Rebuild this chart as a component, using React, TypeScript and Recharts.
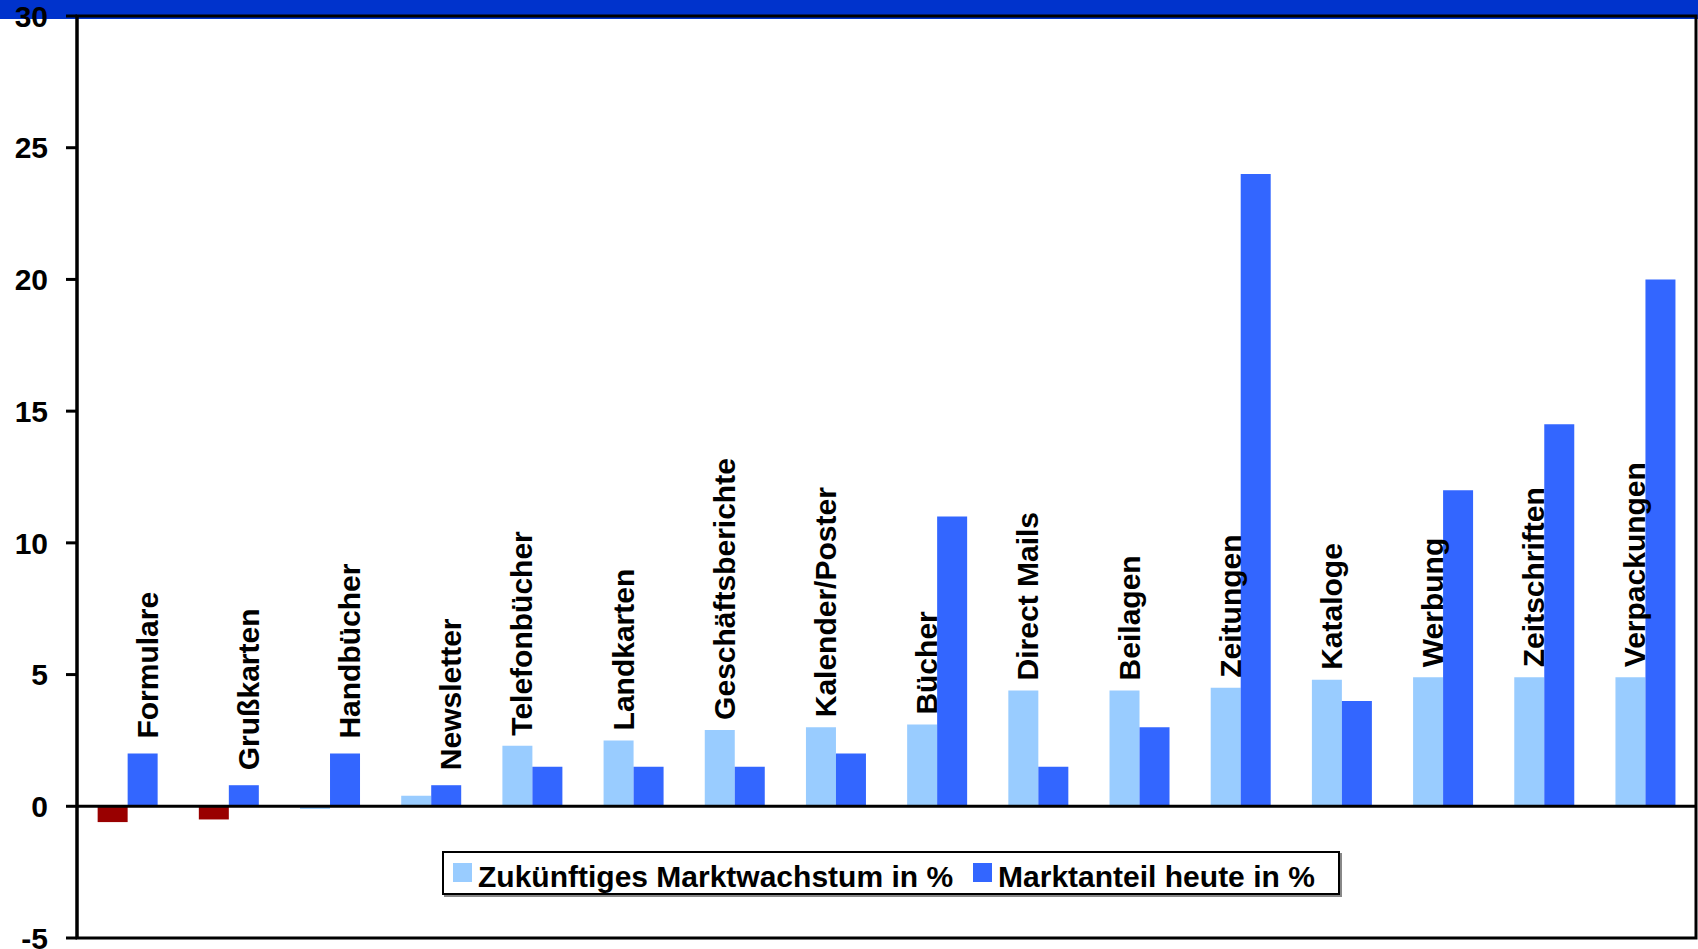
import React from 'react';
import { BarChart, Bar, XAxis, YAxis, Cell, LabelList, Legend, ReferenceLine, ReferenceArea } from 'recharts';

const categories = ['Formulare', 'Grußkarten', 'Handbücher', 'Newsletter', 'Telefonbücher', 'Landkarten', 'Geschäftsberichte', 'Kalender/Poster', 'Bücher', 'Direct Mails', 'Beilagen', 'Zeitungen', 'Kataloge', 'Werbung', 'Zeitschriften', 'Verpackungen'];
const growth = [-0.6, -0.5, -0.1, 0.4, 2.3, 2.5, 2.9, 3.0, 3.1, 4.4, 4.4, 4.5, 4.8, 4.9, 4.9, 4.9];
const share = [2, 0.8, 2, 0.8, 1.5, 1.5, 1.5, 2, 11, 1.5, 3, 24, 4, 12, 14.5, 20];
const yTicks = [-5, 0, 5, 10, 15, 20, 25, 30];
const seriesNames = ['Zukünftiges Marktwachstum in %', 'Marktanteil heute in %'];

const LIGHT = '#99CCFF';
const BLUE = '#3366FF';
const RED = '#990000';
const FONT = '"Liberation Sans", Arial, sans-serif';

const data = categories.map((name, i) => ({ name, growth: growth[i], share: share[i] }));

const makeLabel = (series: 'light' | 'blue') => (props: any) => {
  const { x, y, width, index } = props;
  const onLight = growth[index] >= 1;
  if ((series === 'light') !== onLight) return null;
  const gap = series === 'light' ? 10 : 15;
  const ax = Number(x) + Number(width);
  const ay = Number(y) - gap;
  return (
    <text
      x={ax}
      y={ay}
      transform={`rotate(-90 ${ax} ${ay})`}
      textAnchor="start"
      fontFamily={FONT}
      fontWeight="bold"
      fontSize={30}
      fill="#000"
    >
      {categories[index]}
    </text>
  );
};

const LegendBox = (props: any) => {
  const raw = props.payload || [];
  const payload = seriesNames
    .map((n) => raw.find((p: any) => p.value === n))
    .filter(Boolean);
  return (
    <div
      style={{
        boxSizing: 'border-box',
        width: 898,
        height: 44,
        border: '2px solid #000',
        boxShadow: '2px 2px 0 #888',
        background: '#fff',
        display: 'flex',
        alignItems: 'center',
        paddingLeft: 9,
        fontFamily: FONT,
        fontWeight: 'bold',
        fontSize: 30,
        color: '#000',
      }}
    >
      {payload.map((p: any, i: number) => (
        <div key={i} style={{ display: 'flex', alignItems: 'center', marginRight: i === 0 ? 20 : 0 }}>
          <span style={{ display: 'inline-block', width: 19, height: 19, background: p.color, marginRight: 6, position: 'relative', top: -1 }} />
          <span style={{ lineHeight: '30px', position: 'relative', top: 4, whiteSpace: 'nowrap' }}>{p.value}</span>
        </div>
      ))}
    </div>
  );
};

export default function App() {
  return (
    <div style={{ position: 'absolute', left: 0, top: 0, width: 1698, height: 949, background: '#fff', overflow: 'hidden' }}>
      <div style={{ position: 'absolute', left: 0, top: 0, width: 1698, height: 19, background: '#0033CC' }} />
      <div style={{ position: 'absolute', left: 0, top: 0 }}>
        <BarChart
          width={1698}
          height={949}
          data={data}
          margin={{ top: 16, right: 2, bottom: 11, left: 0 }}
          barCategoryGap="20.4%"
          barGap={0}
        >
          <XAxis dataKey="name" hide />
          <YAxis
            width={77}
            domain={[-5, 30]}
            ticks={yTicks}
            interval={0}
            allowDataOverflow
            axisLine={{ stroke: '#000', strokeWidth: 3 }}
            tickLine={{ stroke: '#000', strokeWidth: 3 }}
            tickSize={11}
            tickMargin={18}
            tick={{ fontFamily: FONT, fontWeight: 'bold', fontSize: 30, fill: '#000' }}
          />
          <ReferenceArea y1={-5} y2={30} fill="none" stroke="#000" strokeWidth={3} ifOverflow="visible" />
          <Bar dataKey="growth" name={seriesNames[0]} fill={LIGHT} isAnimationActive={false}>
            {growth.map((v, i) => (
              <Cell key={i} fill={v < -0.25 ? RED : LIGHT} />
            ))}
            <LabelList dataKey="name" content={makeLabel('light')} />
          </Bar>
          <Bar dataKey="share" name={seriesNames[1]} fill={BLUE} isAnimationActive={false}>
            <LabelList dataKey="name" content={makeLabel('blue')} />
          </Bar>
          <ReferenceLine y={0} stroke="#000" strokeWidth={3} />
          <Legend
            layout="horizontal"
            verticalAlign="middle"
            align="center"
            content={<LegendBox />}
            wrapperStyle={{ position: 'absolute', left: 442, top: 851, width: 898, height: 44 }}
          />
        </BarChart>
      </div>
    </div>
  );
}
